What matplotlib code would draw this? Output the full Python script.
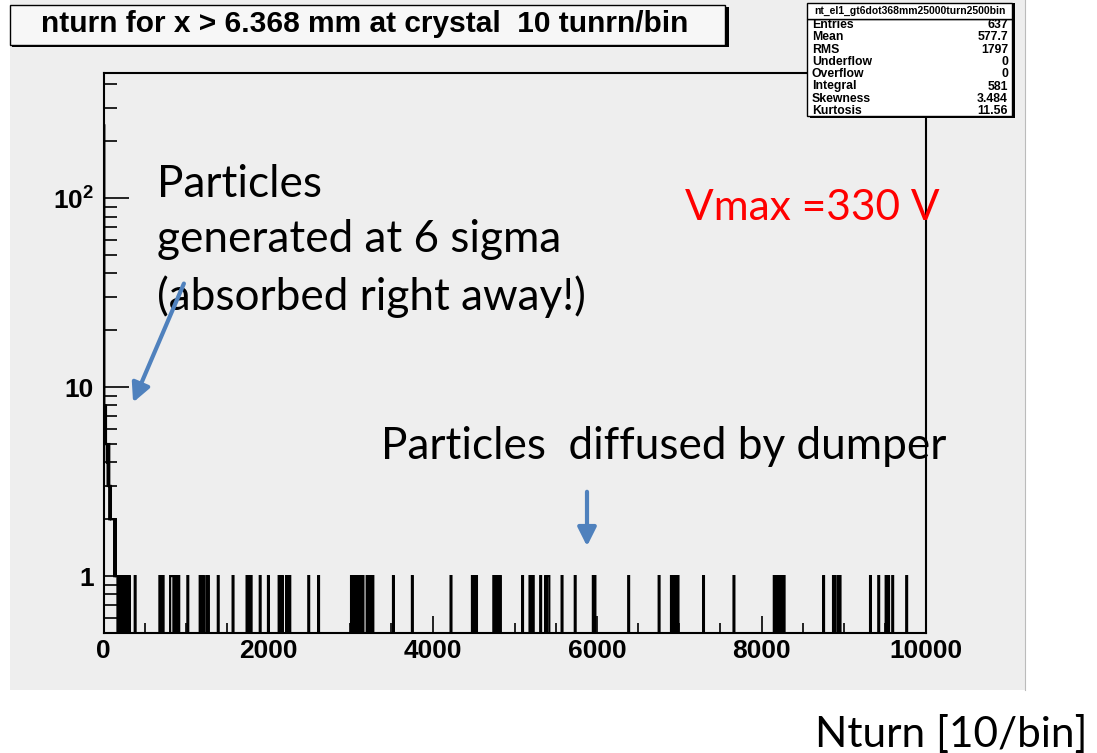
import matplotlib
matplotlib.use('Agg')
import matplotlib.pyplot as plt
import numpy as np
from matplotlib.patches import Rectangle, FancyArrowPatch
from matplotlib.ticker import FixedLocator, MultipleLocator, NullFormatter

W, H = 1097, 753

# histogram: 10 turns per bin, 0 - 10000 turns
bin_width = 10
n_bins = 1000
# counts of the first bins (0 - 150 turns)
low_bin_counts = [243, 7, 8, 5, 4, 3, 5, 2, 3, 2, 2, 2, 2, 1, 2]
# lower edge (turns) of bins holding a single particle
single_hit_turns = [
    150, 160, 180, 190, 210, 230, 260, 290, 310, 380, 680, 690, 710, 720,
    810, 820, 830, 840, 860, 890, 910, 1020, 1170, 1190, 1210, 1250, 1270,
    1390, 1570, 1740, 1760, 1780, 1790, 1900, 2000, 2130, 2150, 2170, 2220,
    2240, 2260, 2490, 2610, 3010, 3030, 3060, 3080, 3100, 3130, 3150, 3200,
    3220, 3240, 3260, 3270, 3520, 3750, 4220, 4480, 4510, 4530, 4740, 4760,
    4780, 4800, 4820, 5090, 5180, 5200, 5220, 5310, 5370, 5390, 5400, 5410,
    5570, 5730, 5950, 5970, 6380, 6750, 6900, 6920, 6950, 6970, 6980, 7290,
    7660, 8150, 8180, 8210, 8240, 8260, 8270, 8750, 8870, 8890, 8930, 8950,
    9320, 9420, 9510, 9540, 9590, 9760,
]

y_major = [1, 10, 100]
y_major_labels = ['1', '10', r'$\mathbf{10^{2}}$']
x_major = [0, 2000, 4000, 6000, 8000, 10000]

title = 'nturn for x > 6.368 mm at crystal  10 tunrn/bin'
stats_name = 'nt_el1_gt6dot368mm25000turn2500bin'
stats_labels = ['Entries', 'Mean', 'RMS', 'Underflow', 'Overflow',
                'Integral', 'Skewness', 'Kurtosis']
stats_values = ['637', '577.7', '1797', '0', '0', '581', '3.484', '11.56']

counts = np.zeros(n_bins)
counts[:len(low_bin_counts)] = low_bin_counts
counts[np.array(single_hit_turns) // bin_width] = 1
edges = np.arange(n_bins + 1) * bin_width


def fx(x):
    return x / W


def fy(y):
    return 1 - y / H


plt.rcParams['mathtext.fontset'] = 'custom'
plt.rcParams['mathtext.bf'] = 'Liberation Sans:bold'
plt.rcParams['mathtext.rm'] = 'Liberation Sans'

panel_grey = '#eeeeee'
fig = plt.figure(figsize=(W / 100, H / 100), dpi=100)
fig.patch.set_facecolor('white')

# grey canvas
fig.add_artist(Rectangle((fx(10), fy(690)), fx(1025 - 10), 690 / H,
                         transform=fig.transFigure, facecolor=panel_grey,
                         edgecolor='none', zorder=0))
fig.add_artist(plt.Line2D([fx(1025), fx(1025)], [fy(690), 1],
                          transform=fig.transFigure, color='#bbbbbb', lw=0.8))

ax = fig.add_axes([fx(103.5), fy(633), fx(926 - 103.5), (633 - 73) / H])
ax.set_facecolor(panel_grey)
ax.set_yscale('log', nonpositive='clip')
ax.stairs(counts, edges, color='black', lw=1.6, baseline=0, zorder=3)
ax.set_xlim(0, 10000)
ax.set_ylim(0.5, 460)

for s in ax.spines.values():
    s.set_linewidth(1.5)

ax.xaxis.set_major_locator(FixedLocator(x_major))
ax.xaxis.set_minor_locator(MultipleLocator(500))
ax.yaxis.set_major_locator(FixedLocator(y_major))
ax.yaxis.set_major_formatter(plt.FixedFormatter(y_major_labels))
y_minor = [0.5, 0.6, 0.7, 0.8, 0.9] + list(range(2, 10)) + \
    list(range(20, 100, 10)) + [200, 300, 400]
ax.yaxis.set_minor_locator(FixedLocator(y_minor))
ax.yaxis.set_minor_formatter(NullFormatter())

ax.tick_params(axis='x', which='major', direction='in', length=12, width=1.2,
               pad=4, labelsize=19)
ax.tick_params(axis='x', which='minor', direction='in', length=7, width=1.2)
ax.tick_params(axis='y', which='major', direction='in', length=18, width=1.2,
               pad=7, labelsize=19)
ax.tick_params(axis='y', which='minor', direction='in', length=9.4, width=1.2)
for lab in ax.get_xticklabels() + ax.get_yticklabels():
    lab.set_fontfamily('Liberation Sans')
    lab.set_fontweight('bold')

# title box
fig.add_artist(Rectangle((fx(12), fy(47)), fx(717), 40 / H,
                         transform=fig.transFigure, facecolor='black',
                         edgecolor='none', zorder=3))
fig.add_artist(Rectangle((fx(10), fy(45)), fx(715), 40 / H,
                         transform=fig.transFigure, facecolor='#f7f7f7',
                         edgecolor='black', lw=1, zorder=4))
fig.text(fx(365), fy(24), title, ha='center', va='center', fontsize=21.5,
         fontweight='bold', family='Liberation Sans', zorder=5)

# stats box
fig.add_artist(Rectangle((fx(810), fy(118)), fx(205), 115 / H,
                         transform=fig.transFigure, facecolor='black',
                         edgecolor='none', zorder=3))
fig.add_artist(Rectangle((fx(807), fy(116)), fx(205), 97 / H,
                         transform=fig.transFigure, facecolor='white',
                         edgecolor='black', lw=1, zorder=4))
fig.add_artist(Rectangle((fx(807), fy(19)), fx(205), 16 / H,
                         transform=fig.transFigure, facecolor='white',
                         edgecolor='black', lw=1, zorder=4))
fig.text(fx(910), fy(11), stats_name, ha='center', va='center', fontsize=7.5,
         fontweight='bold', family='Liberation Sans', zorder=5)
for i, (lab, val) in enumerate(zip(stats_labels, stats_values)):
    yy = 25 + i * 12.3
    fig.text(fx(812), fy(yy), lab, ha='left', va='center', fontsize=8.8,
             fontweight='bold', family='Liberation Sans', zorder=5)
    fig.text(fx(1008), fy(yy), val, ha='right', va='center', fontsize=8.8,
             fontweight='bold', family='Liberation Sans', zorder=5)

# annotations
note_font = dict(family='Lato', fontsize=31.8)
fig.text(fx(157), fy(197), 'Particles', va='baseline', **note_font)
fig.text(fx(157), fy(252), 'generated at 6 sigma', va='baseline', **note_font)
fig.text(fx(157), fy(310), '(absorbed right away!)', va='baseline', **note_font)
fig.text(fx(685), fy(220), 'Vmax =330 V', va='baseline', color='#ff0000',
         family='Lato', fontsize=30.5)
fig.text(fx(381), fy(459), 'Particles  diffused by dumper', va='baseline',
         **note_font)
fig.text(fx(815), fy(747), 'Nturn [10/bin]', va='baseline', family='Lato',
         fontsize=30.5)

arrow_blue = '#4f81bd'
for (x0, y0), (x1, y1) in [((185, 281), (132, 405)), ((587, 489), (587, 549))]:
    fig.add_artist(FancyArrowPatch((fx(x0), fy(y0)), (fx(x1), fy(y1)),
                                   transform=fig.transFigure,
                                   arrowstyle='-|>', mutation_scale=28,
                                   color=arrow_blue, lw=3, zorder=6))

fig.savefig('out.png', dpi=100)
